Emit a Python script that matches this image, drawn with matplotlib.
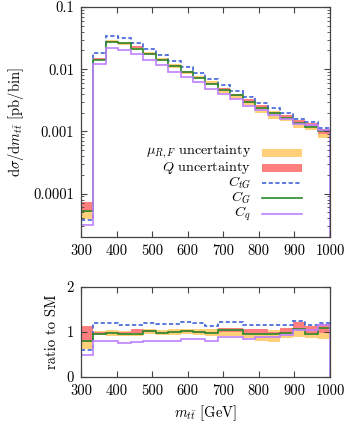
import numpy as np
import matplotlib
matplotlib.use("Agg")
import matplotlib.pyplot as plt
from matplotlib.patches import Rectangle
from matplotlib.lines import Line2D

plt.rcParams["font.family"] = ["cmr10", "DejaVu Serif"]
plt.rcParams["mathtext.fontset"] = "cm"
plt.rcParams["axes.formatter.use_mathtext"] = True
plt.rcParams["font.size"] = 10.5

# bins of 35 GeV from 300 to 1000
edges = np.arange(300, 1001, 35)

# SM central value [pb/bin]
sm = [6.4e-5, 0.0149, 0.0282, 0.0270, 0.0224, 0.0175, 0.0143, 0.0113, 0.0088, 0.0073,
      0.0060, 0.00452, 0.00366, 0.00306, 0.00251, 0.00206, 0.00169, 0.00127, 0.00122, 0.00093]

# ratios to SM
r_ctg = [0.59, 1.20, 1.20, 1.16, 1.16, 1.21, 1.18, 1.18, 1.22, 1.20,
         1.14, 1.22, 1.22, 1.16, 1.16, 1.16, 1.16, 1.24, 1.15, 1.20]
r_cg = [0.81, 0.96, 0.98, 0.96, 0.96, 1.02, 0.98, 1.00, 1.03, 1.00,
        0.98, 1.04, 1.04, 0.96, 0.96, 0.96, 0.98, 1.07, 0.96, 1.09]
r_cq = [0.48, 0.80, 0.79, 0.75, 0.78, 0.81, 0.81, 0.81, 0.84, 0.84,
        0.81, 0.89, 0.90, 0.84, 0.88, 0.88, 0.94, 1.04, 1.04, 1.15]

# scale (mu_R,F) uncertainty band
mu_lo = [0.62, 0.93, 0.92, 0.91, 0.92, 0.95, 0.93, 0.93, 0.96, 0.94,
         0.92, 0.92, 0.92, 0.86, 0.80, 0.77, 0.87, 0.90, 0.86, 0.84]
mu_hi = [1.00, 1.03, 1.05, 1.03, 1.04, 1.07, 1.04, 1.06, 1.07, 1.06,
         1.07, 1.09, 1.09, 1.00, 1.00, 1.05, 1.02, 1.12, 1.00, 1.03]
# Q uncertainty band
q_lo = [0.78, 0.95, 0.97, 0.95, 0.98, 1.00, 0.97, 0.99, 1.00, 0.98,
        0.97, 1.00, 1.00, 0.95, 0.95, 0.95, 0.98, 1.05, 0.96, 0.98]
q_hi = [1.14, 1.00, 1.01, 0.99, 1.07, 1.05, 1.01, 1.03, 1.05, 1.03,
        1.01, 1.10, 1.10, 1.07, 1.06, 1.00, 1.09, 1.22, 1.13, 1.18]

sm = np.array(sm)
c_orange = "#ffcf7a"
c_red = "#ff7f7f"
c_blue = "#3f62d8"
c_green = "#2a8a2a"
c_purple = "#bf80ff"
spine_c = "#444444"

fig = plt.figure(figsize=(3.47, 4.24), dpi=100)
ax = fig.add_axes([0.2334, 0.441, 0.7176, 0.5425])
ax2 = fig.add_axes([0.2334, 0.1108, 0.7176, 0.2123])

# top panel
ax.stairs(sm * np.array(mu_hi), edges, baseline=sm * np.array(mu_lo), fill=True, color=c_orange, lw=0)
ax.stairs(sm * np.array(q_hi), edges, baseline=sm * np.array(q_lo), fill=True, color=c_red, lw=0)
ax.stairs(sm * np.array(r_ctg), edges, baseline=None, color=c_blue, lw=1.2, ls=(0, (2.5, 1.5)))
ax.stairs(sm * np.array(r_cg), edges, baseline=None, color=c_green, lw=1.2)
ax.stairs(sm * np.array(r_cq), edges, baseline=1e-7, color=c_purple, lw=1.2)
ax.set_yscale("log")
ax.set_xlim(300, 1000)
ax.set_ylim(2.0e-5, 0.1)
ax.set_yticks([1e-4, 1e-3, 1e-2, 1e-1])
ax.set_yticklabels(["0.0001", "0.001", "0.01", "0.1"])
ax.set_xticks(range(300, 1001, 100))
ax.set_xticklabels([str(v) for v in range(300, 1001, 100)])
ax.set_ylabel(r"$\mathrm{d}\sigma/\mathrm{d}m_{t\bar{t}}$ [pb/bin]")

# legend drawn gnuplot-style: text right-aligned, key on the right
labels = [r"$\mu_{R,F}$ uncertainty", r"$Q$ uncertainty", r"$C_{tG}$", r"$C_G$", r"$C_q$"]
rows = [0.367, 0.301, 0.236, 0.170, 0.102]
for lab, y in zip(labels, rows):
    ax.text(0.683, y, lab, transform=ax.transAxes, ha="right", va="center", fontsize=10.2)
ax.add_patch(Rectangle((0.727, rows[0] - 0.017), 0.161, 0.034, transform=ax.transAxes, color=c_orange, lw=0))
ax.add_patch(Rectangle((0.727, rows[1] - 0.017), 0.161, 0.034, transform=ax.transAxes, color=c_red, lw=0))
ax.add_line(Line2D([0.727, 0.888], [rows[2]] * 2, transform=ax.transAxes, color=c_blue, lw=1.2, ls=(0, (2.5, 1.5))))
ax.add_line(Line2D([0.727, 0.888], [rows[3]] * 2, transform=ax.transAxes, color=c_green, lw=1.2))
ax.add_line(Line2D([0.727, 0.888], [rows[4]] * 2, transform=ax.transAxes, color=c_purple, lw=1.2))

# ratio panel
ax2.stairs(mu_hi, edges, baseline=mu_lo, fill=True, color=c_orange, lw=0)
ax2.stairs(q_hi, edges, baseline=q_lo, fill=True, color=c_red, lw=0)
ax2.stairs(r_ctg, edges, baseline=None, color=c_blue, lw=1.2, ls=(0, (2.5, 1.5)))
ax2.stairs(r_cg, edges, baseline=None, color=c_green, lw=1.2)
ax2.stairs(r_cq, edges, baseline=0, color=c_purple, lw=1.2)
ax2.set_xlim(300, 1000)
ax2.set_ylim(0, 2)
ax2.set_yticks([0, 1, 2])
ax2.set_yticklabels(["0", "1", "2"])
ax2.set_xticks(range(300, 1001, 100))
ax2.set_xticklabels([str(v) for v in range(300, 1001, 100)])
ax2.set_ylabel("ratio to SM")
ax2.set_xlabel(r"$m_{t\bar{t}}$ [GeV]", labelpad=4)

for a in (ax, ax2):
    a.tick_params(which="both", direction="in", top=True, right=True, color=spine_c)
    a.tick_params(which="major", length=4, pad=5)
    a.tick_params(which="minor", length=2)
    for s in a.spines.values():
        s.set_color(spine_c)
        s.set_linewidth(0.9)
ax.yaxis.set_label_coords(-0.22, 0.5)
ax2.yaxis.set_label_coords(-0.09, 0.5)

fig.savefig("out.png", dpi=100)
